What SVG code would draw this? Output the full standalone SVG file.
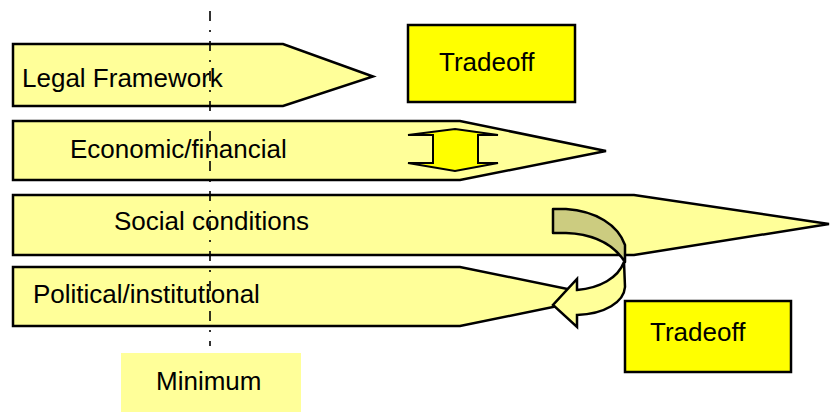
<svg xmlns="http://www.w3.org/2000/svg" width="830" height="412" viewBox="0 0 830 412">
  <style>
    .band { fill: #FFFF99; stroke: #000; stroke-width: 2.5; stroke-linejoin: miter; }
    .box { fill: #FFFF00; stroke: #000; stroke-width: 2.5; }
    .label { font-family: "Liberation Sans", Arial, sans-serif; font-size: 26px; fill: #000; }
    .guide { stroke: #000; stroke-width: 1.6; fill: none; stroke-dasharray: 10 9 2 9; }
  </style>
  <rect width="830" height="412" fill="#FFFFFF"/>

  <!-- horizontal pentagon bands -->
  <g id="legal">
    <polygon class="band" points="13,44 283,44 373,76.5 283,106 13,106"/>
    <text class="label" x="22" y="87">Legal Framework</text>
  </g>
  <g id="economic">
    <polygon class="band" points="13,121 460,121 606,151 460,180 13,180"/>
    <text class="label" x="70" y="158">Economic/financial</text>
  </g>
  <g id="social">
    <polygon class="band" points="13,195 634,195 829,224 634,255 13,255"/>
    <text class="label" x="114" y="230">Social conditions</text>
  </g>
  <g id="political">
    <polygon class="band" points="13,267 460,267 604,296.5 460,326 13,326"/>
    <text class="label" x="33" y="303">Political/institutional</text>
  </g>

  <!-- tradeoff boxes -->
  <g id="tradeoff-top">
    <rect class="box" x="408" y="25" width="167" height="77"/>
    <text class="label" x="439" y="71">Tradeoff</text>
  </g>
  <g id="tradeoff-bottom">
    <rect class="box" x="625" y="301" width="166" height="71"/>
    <text class="label" x="650" y="341">Tradeoff</text>
  </g>

  <!-- minimum label -->
  <g id="minimum">
    <rect x="121" y="353" width="180" height="59" fill="#FFFF99"/>
    <text class="label" x="156" y="390">Minimum</text>
  </g>

  <g id="connectors">
    <!-- vertical minimum line -->
    <line class="guide" x1="210" y1="11" x2="210" y2="346"/>
    <!-- up-down double arrow -->
    <polygon fill="#FFFF00" stroke="#000" stroke-width="2" stroke-linejoin="miter"
             points="455,129 498,135 478,135 478,163 498,163 455,171 408,163 433,163 433,135 408,135"/>
    <!-- curved arrow: upper shaded half -->
    <path fill="#CCCC80" stroke="#000" stroke-width="2.5" stroke-linejoin="round"
          d="M553,209 L566,209 C596,211 618,225 625,245 L625,262 C614,245 594,234 566,233 L553,233 Z"/>
    <!-- curved arrow: lower half with head -->
    <path fill="#FFFF99" stroke="#000" stroke-width="2.5" stroke-linejoin="miter"
          d="M624,262 L625,287 C624,302 605,314 577,315 L577,327 L553,305 L577,279 L577,290 C600,288 618,278 624,262 Z"/>
  </g>
</svg>
